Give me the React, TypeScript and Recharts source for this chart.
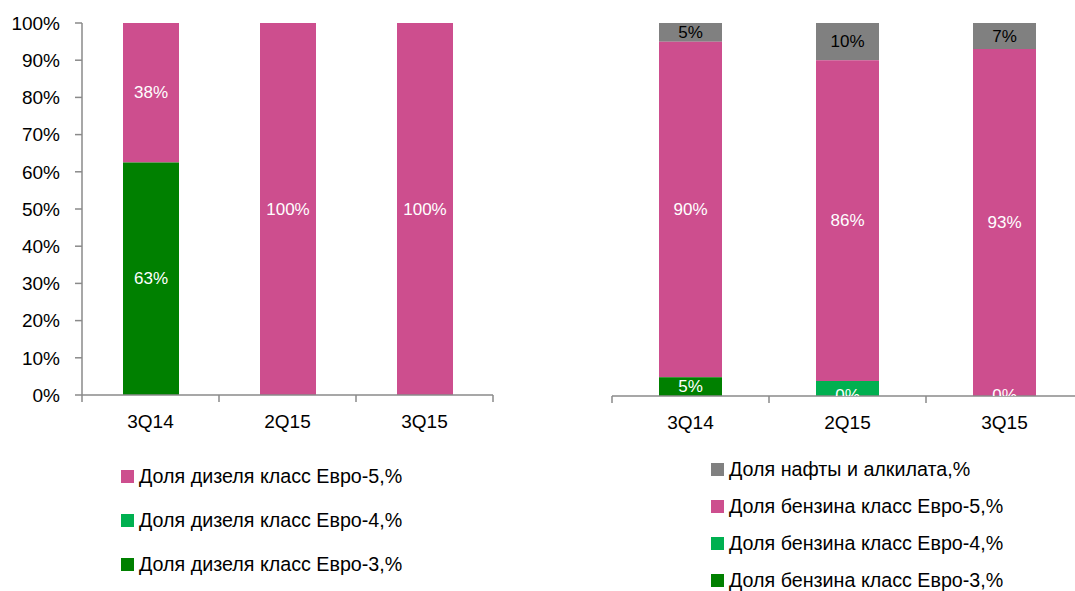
import React from 'react';
import { BarChart, Bar, XAxis, YAxis, LabelList } from 'recharts';

const categories = ['3Q14', '2Q15', '3Q15'];
const yTicks = [0, 10, 20, 30, 40, 50, 60, 70, 80, 90, 100];

// Left chart: diesel
const dieselEuro3 = [62.5, 0, 0];
const dieselEuro4 = [0, 0, 0];
const dieselEuro5 = [37.5, 100, 100];
const dieselEuro3Labels = ['63%', '', ''];
const dieselEuro4Labels = ['', '', ''];
const dieselEuro5Labels = ['38%', '100%', '100%'];

// Right chart: gasoline
const petrolEuro3 = [5, 0, 0];
const petrolEuro4 = [0, 4, 0];
const petrolEuro5 = [90, 86, 93];
const naphtha = [5, 10, 7];
const petrolEuro3Labels = ['5%', '0%', '0%'];
const petrolEuro4Labels = ['', '', ''];
const petrolEuro5Labels = ['90%', '86%', '93%'];
const naphthaLabels = ['5%', '10%', '7%'];

const dieselNames = ['Доля дизеля класс Евро-5,%', 'Доля дизеля класс Евро-4,%', 'Доля дизеля класс Евро-3,%'];
const petrolNames = ['Доля нафты и алкилата,%', 'Доля бензина класс Евро-5,%', 'Доля бензина класс Евро-4,%', 'Доля бензина класс Евро-3,%'];

const PINK = '#CD4E8E';
const DARK_GREEN = '#008000';
const LIGHT_GREEN = '#00B050';
const GRAY = '#808080';
const AXIS = '#8a8a8a';
const FONT = '"Liberation Sans", Arial, sans-serif';

const dieselData = categories.map((c, i) => ({
  cat: c,
  e3: dieselEuro3[i],
  e4: dieselEuro4[i],
  e5: dieselEuro5[i],
}));

const petrolData = categories.map((c, i) => ({
  cat: c,
  e3: petrolEuro3[i],
  e4: petrolEuro4[i],
  e5: petrolEuro5[i],
  n: naphtha[i],
}));

const makeLabel = (labels: string[], color: string, id: string) => (props: any) => {
  const { x, y, width, height, index } = props;
  const text = labels[index];
  if (!text) return null;
  const cx = Number(x) + Number(width) / 2;
  const top = Number(y);
  const h = Number(height) || 0;
  const cy = top + h / 2;
  const bottom = top + h;
  const cid = `clip-${id}-${index}`;
  return (
    <g>
      <defs>
        <clipPath id={cid}>
          <rect x={cx - 80} y={bottom - 500} width={160} height={500} />
        </clipPath>
      </defs>
      <text
        x={cx}
        y={cy}
        textAnchor="middle"
        dominantBaseline="central"
        fill={color}
        fontSize={17}
        fontFamily={FONT}
        clipPath={`url(#${cid})`}
      >
        {text}
      </text>
    </g>
  );
};

const CatTick = (props: any) => {
  const { x, y, payload, index, visibleTicksCount } = props;
  const off = payload && payload.offset ? payload.offset : 0;
  const last = index === (visibleTicksCount ?? categories.length) - 1;
  return (
    <g>
      <line x1={x - off} x2={x - off} y1={y} y2={y + 7} stroke={AXIS} strokeWidth={1.5} />
      {last && <line x1={x + off} x2={x + off} y1={y} y2={y + 7} stroke={AXIS} strokeWidth={1.5} />}
      <text x={x} y={y + 20} dy="0.71em" textAnchor="middle" fill="#000" fontSize={19} fontFamily={FONT}>
        {payload.value}
      </text>
    </g>
  );
};

const Legend = ({ items, left, top, gap }: { items: { name: string; color: string }[]; left: number; top: number; gap: number }) => (
  <>
    {items.map((it, i) => (
      <div
        key={it.name}
        style={{
          position: 'absolute',
          left,
          top: top + i * gap - 12,
          height: 24,
          display: 'flex',
          alignItems: 'center',
          fontFamily: FONT,
          fontSize: 19.7,
          color: '#000',
          whiteSpace: 'nowrap',
        }}
      >
        <span style={{ display: 'inline-block', width: 13, height: 13, background: it.color, marginRight: 5 }} />
        <span>{it.name}</span>
      </div>
    ))}
  </>
);

export default function App() {
  return (
    <div style={{ position: 'fixed', left: 0, top: 0, width: 1075, height: 591, overflow: 'hidden', background: '#fff' }}>
      <div style={{ position: 'absolute', left: 0, top: 0 }}>
        <BarChart width={520} height={440} data={dieselData} reverseStackOrder margin={{ top: 23, right: 27, bottom: 15, left: 0 }}>
          <YAxis
            width={82}
            domain={[0, 100]}
            ticks={yTicks}
            interval={0}
            tickFormatter={(v: number) => `${v}%`}
            tickSize={7}
            tickMargin={15}
            axisLine={{ stroke: AXIS, strokeWidth: 1.5 }}
            tickLine={{ stroke: AXIS, strokeWidth: 1.5 }}
            tick={{ fill: '#000', fontSize: 19, fontFamily: FONT }}
          />
          <XAxis
            dataKey="cat"
            tickSize={0}
            tickMargin={0}
            tickLine={false}
            axisLine={{ stroke: AXIS, strokeWidth: 1.5 }}
            tick={<CatTick />}
            interval={0}
          />
          <Bar dataKey="e5" stackId="a" fill={PINK} barSize={56} isAnimationActive={false}>
            <LabelList dataKey="e5" content={makeLabel(dieselEuro5Labels, '#fff', 'd5')} />
          </Bar>
          <Bar dataKey="e4" stackId="a" fill={LIGHT_GREEN} barSize={56} isAnimationActive={false}>
            <LabelList dataKey="e4" content={makeLabel(dieselEuro4Labels, '#fff', 'd4')} />
          </Bar>
          <Bar dataKey="e3" stackId="a" fill={DARK_GREEN} barSize={56} isAnimationActive={false}>
            <LabelList dataKey="e3" content={makeLabel(dieselEuro3Labels, '#fff', 'd3')} />
          </Bar>
        </BarChart>
      </div>
      <div style={{ position: 'absolute', left: 560, top: 0 }}>
        <BarChart width={560} height={440} data={petrolData} reverseStackOrder margin={{ top: 23, right: 37, bottom: 14, left: 52 }}>
          <YAxis hide domain={[0, 100]} ticks={yTicks} />
          <XAxis
            dataKey="cat"
            tickSize={0}
            tickMargin={0}
            tickLine={false}
            axisLine={{ stroke: AXIS, strokeWidth: 1.5 }}
            tick={<CatTick />}
            interval={0}
          />
          <Bar dataKey="n" stackId="b" fill={GRAY} barSize={63} isAnimationActive={false}>
            <LabelList dataKey="n" content={makeLabel(naphthaLabels, '#000', 'pn')} />
          </Bar>
          <Bar dataKey="e5" stackId="b" fill={PINK} barSize={63} isAnimationActive={false}>
            <LabelList dataKey="e5" content={makeLabel(petrolEuro5Labels, '#fff', 'p5')} />
          </Bar>
          <Bar dataKey="e4" stackId="b" fill={LIGHT_GREEN} barSize={63} isAnimationActive={false}>
            <LabelList dataKey="e4" content={makeLabel(petrolEuro4Labels, '#fff', 'p4')} />
          </Bar>
          <Bar dataKey="e3" stackId="b" fill={DARK_GREEN} barSize={63} minPointSize={0.01} isAnimationActive={false}>
            <LabelList dataKey="e3" content={makeLabel(petrolEuro3Labels, '#fff', 'p3')} />
          </Bar>
        </BarChart>
      </div>
      <Legend
        left={121}
        top={476}
        gap={44}
        items={[
          { name: dieselNames[0], color: PINK },
          { name: dieselNames[1], color: LIGHT_GREEN },
          { name: dieselNames[2], color: DARK_GREEN },
        ]}
      />
      <Legend
        left={711}
        top={469}
        gap={37}
        items={[
          { name: petrolNames[0], color: GRAY },
          { name: petrolNames[1], color: PINK },
          { name: petrolNames[2], color: LIGHT_GREEN },
          { name: petrolNames[3], color: DARK_GREEN },
        ]}
      />
    </div>
  );
}
